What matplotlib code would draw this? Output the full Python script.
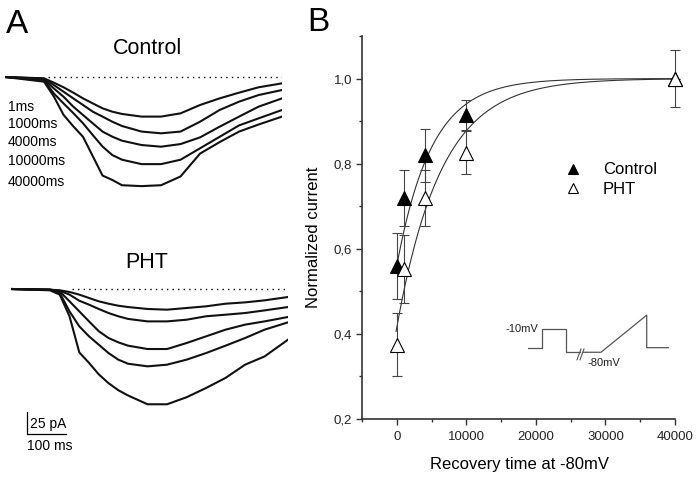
import numpy as np
import matplotlib
matplotlib.use("Agg")
import matplotlib.pyplot as plt
from matplotlib.ticker import FuncFormatter, MultipleLocator

plt.rcParams['font.family'] = ['Liberation Sans', 'DejaVu Sans']

# ---------------- Panel A data (ms, pA) ----------------
t_trace = [0, 100, 125, 150, 175, 200, 225, 250, 275, 300, 350, 400, 450, 500, 550, 600, 650, 710]
trace_labels = ["1ms", "1000ms", "4000ms", "10000ms", "40000ms"]

control_traces = [
    [0, -1.5, -6.4, -11.7, -17.8, -24.3, -30.0, -35.6, -39.4, -42.0, -45.0, -45.0, -41.3, -31.8, -24.3, -17.8, -11.7, -7.2],
    [0, -1.9, -9.1, -16.7, -24.3, -31.8, -39.4, -45.0, -50.8, -55.7, -62.0, -64.0, -62.0, -50.8, -37.5, -28.0, -20.5, -14.8],
    [0, -2.7, -12.9, -22.4, -33.7, -43.2, -52.7, -62.0, -67.8, -72.4, -77.3, -79.2, -76.2, -68.6, -56.5, -45.0, -33.7, -24.3],
    [0, -3.4, -18.6, -30.0, -41.0, -52.6, -66.0, -79.0, -88.7, -94.0, -99.0, -99.0, -94.0, -81.0, -68.0, -55.0, -47.0, -37.5],
    [0, -5.3, -22.0, -43.0, -56.0, -68.0, -90.0, -112.0, -117.0, -123.0, -124.0, -123.0, -113.0, -87.0, -74.0, -62.0, -54.0, -45.0],
]
pht_traces = [
    [0, -0.8, -1.5, -3.4, -6.4, -10.2, -14.0, -16.7, -19.0, -20.5, -22.7, -23.5, -21.6, -19.7, -16.7, -15.2, -12.9, -9.1],
    [0, -0.8, -1.9, -6.4, -13.3, -17.8, -22.7, -27.3, -31.0, -34.0, -36.8, -36.8, -34.9, -31.0, -29.2, -27.3, -24.3, -20.5],
    [0, -0.8, -2.7, -14.0, -25.4, -36.8, -48.0, -55.7, -60.6, -64.4, -68.2, -68.2, -61.4, -53.8, -46.2, -40.5, -36.8, -31.8],
    [0, -0.8, -4.5, -25.4, -42.4, -53.8, -63.3, -72.8, -80.3, -84.9, -87.9, -86.0, -80.3, -72.8, -64.4, -55.7, -46.2, -37.9],
    [0, -1.5, -6.4, -31.0, -72.0, -84.0, -97.0, -107.0, -115.0, -121.0, -131.0, -131.0, -123.0, -112.5, -101.0, -86.0, -76.6, -57.6],
]
ctrl_dotted_start = 110
pht_dotted_start = 156
trace_end = 710
scale_pA = 25
scale_ms = 100

# ---------------- Panel B data ----------------
rec_time = [1, 1000, 4000, 10000, 40000]
ctrl_mean = [0.56, 0.72, 0.82, 0.915, 1.0]
ctrl_err = [0.078, 0.066, 0.062, 0.035, 0.0]
pht_mean = [0.375, 0.553, 0.72, 0.826, 1.0]
pht_err = [0.073, 0.08, 0.066, 0.05, 0.068]
# single exponential fit parameters: y = 1 - A*exp(-t/tau)
ctrl_A, ctrl_tau = 0.44, 5000.0
pht_A, pht_tau = 0.585, 6400.0

# voltage protocol inset (arbitrary time units, mV)
prot1_t = [0, 14.6, 14.6, 38.3, 38.3, 52.3]
prot1_v = [-67, -67, -10, -10, -80, -80]
prot2_t = [55.3, 73.3, 119, 119, 141.6]
prot2_v = [-80, -80, 33, -66, -66]

W, H = 699, 478
fig = plt.figure(figsize=(W / 100, H / 100), dpi=100)


def fx(px):
    return px / W


def fy(py):
    return 1 - py / H


# ---------------- Panel A ----------------
axc = fig.add_axes([fx(5), fy(200.2), 277 / W, 132 / H])
axp = fig.add_axes([fx(11), fy(412.2), 277 / W, 132 / H])
for ax, traces, dstart in ((axc, control_traces, ctrl_dotted_start), (axp, pht_traces, pht_dotted_start)):
    for tr in traces:
        ax.plot(t_trace, tr, color='#111111', lw=1.5, solid_joinstyle='round')
    ax.hlines(0, dstart, trace_end, colors='black', linestyles=(0, (1, 3)), lw=1.0)
    ax.set_xlim(0, 710)
    ax.set_ylim(-140, 10)
    ax.axis('off')

# scale bar
sb_x0 = 41
sb_y0 = -139.8
axp.plot([sb_x0, sb_x0, sb_x0 + scale_ms], [sb_y0, sb_y0 - scale_pA, sb_y0 - scale_pA],
         color='black', lw=0.9, clip_on=False)
fig.text(fx(30), fy(424), f"{scale_pA} pA", fontsize=10, va='center', ha='left')
fig.text(fx(27), fy(446), f"{scale_ms} ms", fontsize=10, va='center', ha='left')

fig.text(fx(6), fy(33), "A", fontsize=24, va='baseline', ha='left')
fig.text(fx(148), fy(49), "Control", fontsize=15.5, va='center', ha='center')
fig.text(fx(147), fy(263), "PHT", fontsize=15.5, va='center', ha='center')
for lab, yy in zip(trace_labels, [107, 124, 142, 161, 182]):
    fig.text(fx(8), fy(yy), lab, fontsize=10, va='center', ha='left')

# ---------------- Panel B ----------------
fig.text(fx(307), fy(31), "B", fontsize=24, va='baseline', ha='left')
ax = fig.add_axes([fx(362), fy(419), (675 - 362) / W, (419 - 36) / H])

tc = np.linspace(-100, 40000, 800)
ax.plot(tc, 1 - ctrl_A * np.exp(-tc / ctrl_tau), color='#333333', lw=0.8, zorder=1)
ax.plot(tc, 1 - pht_A * np.exp(-tc / pht_tau), color='#333333', lw=0.8, zorder=1)

ax.errorbar(rec_time, ctrl_mean, yerr=ctrl_err, fmt='none', ecolor='#444444',
            elinewidth=0.8, capsize=3.6, capthick=0.8, zorder=2)
ax.errorbar(rec_time, pht_mean, yerr=pht_err, fmt='none', ecolor='#444444',
            elinewidth=0.8, capsize=3.6, capthick=0.8, zorder=2)
ax.plot(rec_time, ctrl_mean, ls='none', marker='^', ms=9.5, mfc='black', mec='black',
        mew=0.8, zorder=3, label='Control')
ax.plot(rec_time, pht_mean, ls='none', marker='^', ms=9.5, mfc='white', mec='black',
        mew=0.8, zorder=4, label='PHT')
for a in ax.lines + ax.collections:
    a.set_clip_on(False)

ax.set_xlim(-5000, 40000)
ax.set_ylim(0.2, 1.1)
for s in ('top', 'right'):
    ax.spines[s].set_visible(False)
for s in ('left', 'bottom'):
    ax.spines[s].set_color('#333333')
    ax.spines[s].set_linewidth(1.2)
ax.xaxis.set_major_locator(MultipleLocator(10000))
ax.xaxis.set_minor_locator(MultipleLocator(5000))
ax.yaxis.set_major_locator(MultipleLocator(0.2))
ax.yaxis.set_minor_locator(MultipleLocator(0.1))
ax.yaxis.set_major_formatter(FuncFormatter(lambda v, p: f"{v:.1f}".replace('.', ',')))
ax.tick_params(which='major', direction='out', length=4, width=1.0, color='#333333',
               labelsize=9.5, labelcolor='#222222', pad=3)
ax.tick_params(axis='x', which='major', pad=5)
ax.tick_params(which='minor', direction='out', length=2, width=1.0, color='#333333')

ax.set_xlabel("Recovery time at -80mV", fontsize=12)
ax.set_ylabel("Normalized current", fontsize=12)
ax.xaxis.label.set_va('center')
ax.yaxis.label.set_va('center')
ax.xaxis.set_label_coords((519 - 362) / 313, (419 - 465) / 383)
ax.yaxis.set_label_coords((313 - 362) / 313, (419 - 237) / 383)

leg = ax.legend(loc='upper left', bbox_to_anchor=((563 - 362) / 313, (419 - 162.5) / 383),
                frameon=False, fontsize=12, handlelength=1.2, handletextpad=1.2,
                labelspacing=0.28, borderpad=0, borderaxespad=0, markerscale=0.8)

# inset protocol
axi = fig.add_axes([fx(527.7), fy(370), 141.6 / W, 58 / H])
axi.plot(prot1_t, prot1_v, color='#555555', lw=0.9)
axi.plot(prot2_t, prot2_v, color='#555555', lw=0.9)
axi.plot([49.3, 53.3], [-103, -70], color='#555555', lw=0.8)
axi.plot([52.3, 56.3], [-103, -70], color='#555555', lw=0.8)
axi.text(10.3, -10, "-10mV", fontsize=8, ha='right', va='center', color='#222222')
axi.text(59.3, -112.5, "-80mV", fontsize=8, ha='left', va='center', color='#222222')
axi.set_xlim(0, 141.6)
axi.set_ylim(-134, 42.6)
axi.axis('off')

fig.savefig("out.png", dpi=100)
